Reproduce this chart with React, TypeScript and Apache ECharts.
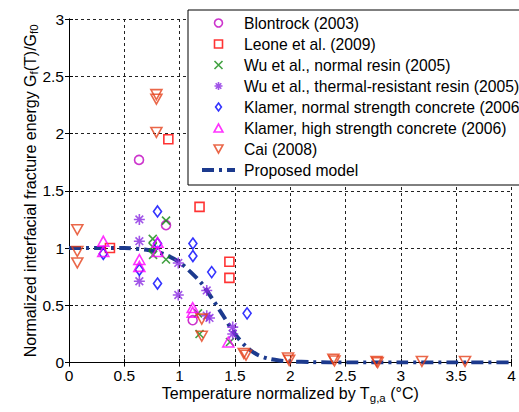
import React, { useEffect, useRef } from 'react';
import * as echarts from 'echarts';

// ---- data ----
const blontrock = [[0.633, 1.77], [0.877, 1.2], [1.118, 0.37]];
const leone = [[0.898, 1.95], [0.37, 1.0], [1.18, 1.36], [1.45, 0.88], [1.45, 0.74]];
const wuNormal = [
  [0.757, 1.08], [0.757, 1.01], [0.76, 0.94], [0.877, 1.24], [0.877, 0.9],
  [1.166, 0.43], [1.18, 0.25], [1.455, 0.18],
];
const wuThermal = [
  [0.636, 1.25], [0.636, 1.06], [0.636, 0.71], [0.988, 0.87], [0.988, 0.59],
  [1.245, 0.63], [1.245, 0.41], [1.27, 0.39], [1.48, 0.31], [1.48, 0.25],
];
const klamerNormal = [
  [0.31, 0.95], [0.636, 0.81], [0.8, 1.32], [0.8, 1.04], [0.8, 0.69],
  [1.12, 1.04], [1.12, 0.93], [1.29, 0.79], [1.61, 0.43],
];
const klamerHigh = [
  [0.31, 1.06], [0.31, 0.97], [0.636, 0.9], [0.636, 0.84], [0.8, 1.05],
  [0.8, 0.97], [1.118, 0.48], [1.118, 0.44], [1.44, 0.18],
];
const cai = [
  [0.075, 1.16], [0.075, 0.97], [0.075, 0.87], [0.79, 2.34], [0.79, 2.3], [0.79, 2.01],
  [1.2, 0.38], [1.2, 0.23], [1.58, 0.08], [1.6, 0.065], [1.98, 0.04], [1.99, 0.02],
  [2.39, 0.03], [2.4, 0.015], [2.78, 0.01], [2.79, 0.0], [3.19, 0.01], [3.58, 0.01],
];
const modelX = [0, 0.25, 0.5, 0.7, 0.8, 0.9, 1.0, 1.1, 1.2, 1.3, 1.4, 1.5, 1.6, 1.7, 1.8, 1.9, 2.0, 2.2, 2.5, 3.0, 3.5, 4.0];
const modelY = [1.0, 1.0, 1.0, 0.985, 0.965, 0.93, 0.875, 0.79, 0.69, 0.55, 0.4, 0.25, 0.14, 0.07, 0.035, 0.018, 0.01, 0.004, 0, 0, 0, 0];

const seriesNames = [
  'Blontrock (2003)',
  'Leone et al. (2009)',
  'Wu et al., normal resin (2005)',
  'Wu et al., thermal-resistant resin (2005)',
  'Klamer, normal strength concrete (2006)',
  'Klamer, high strength concrete (2006)',
  'Cai (2008)',
  'Proposed model',
];

const SQ = 'path://M0,0L10,0L10,10L0,10Z';
const DIA = 'path://M4,0L8,5.5L4,11L0,5.5Z';
const TRI_UP = 'path://M5,0L10,9L0,9Z';
const TRI_DN = 'path://M0,0L10,0L5,9Z';
const XS = 'path://M0,0L10,10M10,0L0,10';
const AST = 'path://M5,0L5,10M0,5L10,5M1.5,1.5L8.5,8.5M8.5,1.5L1.5,8.5';

const FONT = '"Liberation Sans", Arial, Helvetica, sans-serif';
const DASH = [12, 5, 3, 5];
const LINE_COLOR = '#1c3a8e';

function scatter(name: string, data: number[][], symbol: string, size: number, color: string) {
  return {
    type: 'scatter',
    name,
    data,
    symbol,
    symbolSize: size,
    symbolKeepAspect: true,
    z: 3,
    itemStyle: { color: 'none', borderColor: color, borderWidth: 1.6 },
    emphasis: { disabled: true },
  };
}

export default function App() {
  const ref = useRef<HTMLDivElement>(null);
  useEffect(() => {
    const chart = echarts.init(ref.current!, null, { renderer: 'svg' });
    const axisCommon = {
      type: 'value',
      axisLine: { show: true, lineStyle: { color: '#000', width: 1 } },
      axisTick: { show: true, inside: true, length: 4, lineStyle: { color: '#000' } },
      axisLabel: { color: '#000', fontSize: 15.5, fontFamily: FONT },
      splitLine: { show: true, lineStyle: { color: '#222', width: 1, type: [3, 3] } },
    };
    const nameStyle = {
      fontSize: 16, color: '#000', fontFamily: FONT,
      rich: { s: { fontSize: 11.5, padding: [8, 0, 0, 0], fontFamily: FONT, color: '#000' } },
    };
    chart.setOption({
      animation: false,
      textStyle: { fontFamily: FONT },
      grid: { left: 69, right: 7.5, top: 19, bottom: 49.4, containLabel: false },
      xAxis: [
        {
          ...axisCommon,
          min: 0, max: 4, interval: 0.5,
          axisLabel: { ...axisCommon.axisLabel, margin: 5 },
          name: 'Temperature normalized by T{s|g,a} (°C)',
          nameLocation: 'middle',
          nameGap: 21,
          nameMoveOverlap: false,
          nameTextStyle: nameStyle,
        },
        {
          ...axisCommon,
          position: 'top',
          min: 0, max: 4, interval: 0.5,
          axisLabel: { show: false },
          splitLine: { show: false },
        },
      ],
      yAxis: [
        {
          ...axisCommon,
          min: 0, max: 3, interval: 0.5,
          axisLabel: { ...axisCommon.axisLabel, margin: 5 },
          name: 'Normalized interfacial fracture energy G{s|f}(T)/G{s|f0}',
          nameLocation: 'middle',
          nameGap: 29,
          nameMoveOverlap: false,
          nameTextStyle: nameStyle,
        },
        {
          ...axisCommon,
          position: 'right',
          min: 0, max: 3, interval: 0.5,
          axisLabel: { show: false },
          splitLine: { show: false },
        },
      ],
      legend: {
        orient: 'vertical',
        left: 188,
        top: 10,
        padding: [5, 220, 7, 12],
        itemWidth: 33,
        itemHeight: 8,
        itemGap: 5,
        selectedMode: false,
        backgroundColor: '#fff',
        borderColor: '#000',
        borderWidth: 1,
        z: 10,
        textStyle: { fontSize: 15.7, color: '#000', fontFamily: FONT, padding: [0, 0, 0, 4] },
        itemStyle: { borderWidth: 1.6 },
        lineStyle: { width: 4, type: DASH, color: LINE_COLOR },
        data: [
          ...seriesNames.slice(0, 7),
          { name: seriesNames[7], itemStyle: { color: 'none', borderWidth: 0, opacity: 0 } },
        ],
      },
      series: [
        scatter(seriesNames[0], blontrock, 'circle', 9, '#bf00bf'),
        scatter(seriesNames[1], leone, SQ, 9, '#ff0000'),
        scatter(seriesNames[2], wuNormal, XS, 8, '#128a12'),
        scatter(seriesNames[3], wuThermal, AST, 11, '#8a2be2'),
        scatter(seriesNames[4], klamerNormal, DIA, 11, '#0000ff'),
        scatter(seriesNames[5], klamerHigh, TRI_UP, 11, '#ff00ff'),
        scatter(seriesNames[6], cai, TRI_DN, 11, '#e5411c'),
        {
          type: 'line',
          name: seriesNames[7],
          data: modelX.map((x, i) => [x, modelY[i]]),
          smooth: 0.3,
          symbol: 'none',
          showSymbol: false,
          z: 2,
          lineStyle: { color: LINE_COLOR, width: 4, type: DASH },
          itemStyle: { color: LINE_COLOR },
          emphasis: { disabled: true },
        },
      ],
    });
    return () => chart.dispose();
  }, []);
  return <div ref={ref} style={{ width: 519, height: 412, position: 'absolute', left: 0, top: 0 }} />;
}
